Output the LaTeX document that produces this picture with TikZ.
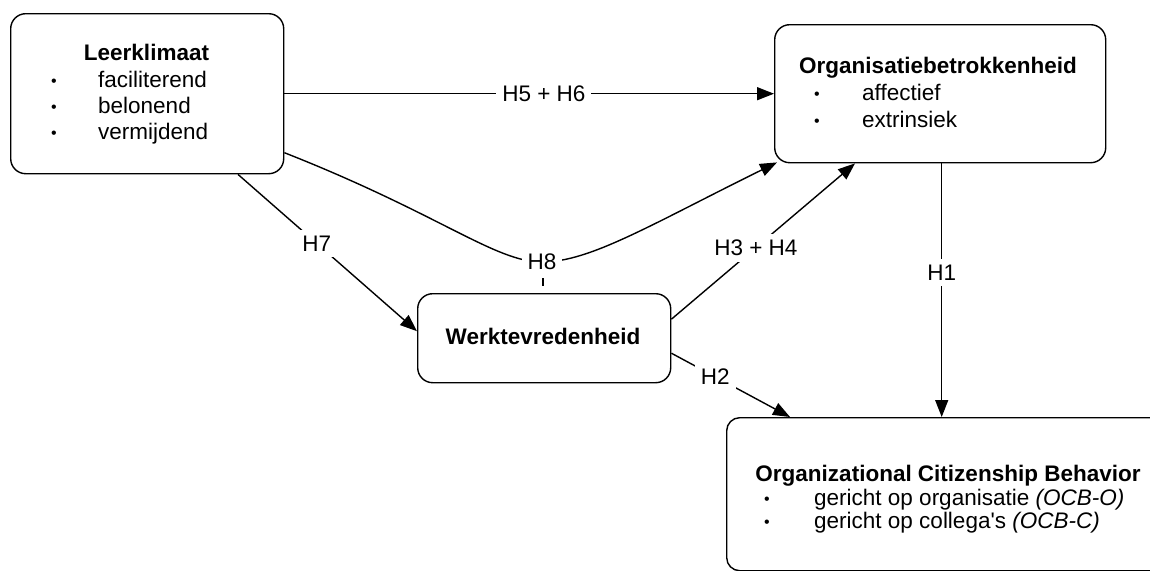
\documentclass[tikz,border=0pt]{standalone}
\usepackage{fontspec}
\setmainfont{Liberation Sans}[Ligatures=TeXOff]
\usetikzlibrary{arrows.meta,calc}
\begin{document}
\begin{tikzpicture}[x=1pt,y=-1pt,
  font=\fontsize{22.5}{26}\selectfont,
  box/.style={draw, line width=1.4pt, rounded corners=15pt, inner sep=0pt, anchor=north west},
  txt/.style={anchor=base west, inner sep=0pt},
  ttl/.style={anchor=base, inner sep=0pt, font=\fontsize{22.5}{26}\selectfont\bfseries},
  bul/.style={anchor=base, inner sep=0pt, font=\fontsize{16}{18}\selectfont},
  conn/.style={line width=1.4pt},
  arr/.style={conn, -{Triangle[length=17pt,width=13pt]}},
  lbl/.style={fill=white, inner sep=6pt}
]
\useasboundingbox (0,0) rectangle (1150,570);
\clip (0,0) rectangle (1150,570);

% boxes
\node[box, minimum width=273pt, minimum height=160pt] (lk) at (10,13) {};
\node[box, minimum width=331pt, minimum height=138pt] (ob) at (774,24) {};
\node[box, minimum width=253pt, minimum height=89pt] (wv) at (417,293) {};
\node[box, minimum width=444pt, minimum height=153pt, rounded corners=13pt] (ocb) at (726,417) {};

% texts Leerklimaat
\node[ttl] (lkt) at (146.5,60) {Leerklimaat};
\node[bul] (lkb1) at (54,86) {•};
\node[bul] (lkb2) at (54,112) {•};
\node[bul] (lkb3) at (54,138) {•};
\node[txt] (lk1) at (98,87) {faciliterend};
\node[txt] (lk2) at (98,113) {belonend};
\node[txt] (lk3) at (98,139) {vermijdend};

% texts Organisatiebetrokkenheid
\node[ttl] (obt) at (938,73) {Organisatiebetrokkenheid};
\node[bul] (obb1) at (817,99) {•};
\node[bul] (obb2) at (817,126) {•};
\node[txt] (ob1) at (862,100) {affectief};
\node[txt] (ob2) at (862,127) {extrinsiek};

% Werktevredenheid
\node[ttl] (wvt) at (543,344) {Werktevredenheid};

% OCB
\node[ttl] (ocbt) at (948,481) {Organizational Citizenship Behavior};
\node[bul] (ocbb1) at (767,504) {•};
\node[bul] (ocbb2) at (767,527) {•};
\node[txt] (ocb1) at (814,505) {gericht op organisatie \textit{(OCB-O)}};
\node[txt] (ocb2) at (814,528) {gericht op collega's \textit{(OCB-C)}};

% connectors
\draw[arr] (lk.east) -- node[lbl, pos=0.53] (l56) {H5 + H6} (ob.west);

\coordinate (h8s) at ($(lk.east)+(0,59)$);
\coordinate (h8m) at (542,262);
\coordinate (h8e) at ($(ob.south west)+(3,-1)$);
\draw[arr] (h8s) .. controls (440,214) and (495,262) .. (h8m)
  .. controls (590,262) and (650,225) .. (h8e);
\node[lbl] (l8) at (h8m) {H8};
\coordinate (t1) at (543,278);
\coordinate (t2) at (543,286);
\draw[conn] (t1) -- (t2);

\draw[arr] ($(lk.south west)+(228,0)$) -- node[lbl, pos=0.44] (l7) {H7} ($(wv.west)+(0,-7)$);
\draw[arr] ($(wv.east)+(0,-19)$) -- node[lbl, pos=0.46] (l34) {H3 + H4} ($(ob.south west)+(81,0)$);
\draw[arr] ($(ob.south)+(1.5,0)$) -- node[lbl, pos=0.43] (l1) {H1} ($(ob.south |- ocb.north)+(1.5,0)$);
\draw[arr] ($(wv.east)+(0,15)$) -- node[lbl, pos=0.37] (l2) {H2} ($(ocb.north west)+(64,0)$);
\end{tikzpicture}
\end{document}
